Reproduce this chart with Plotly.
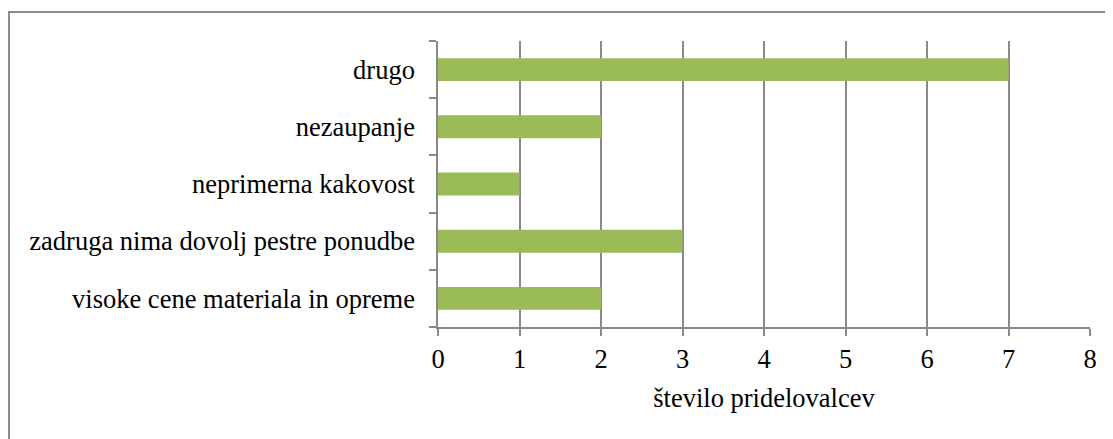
import plotly.graph_objects as go

categories = [
    "visoke cene materiala in opreme",
    "zadruga nima dovolj pestre ponudbe",
    "neprimerna kakovost",
    "nezaupanje",
    "drugo",
]
values = [2, 3, 1, 2, 7]
x_ticks = [0, 1, 2, 3, 4, 5, 6, 7, 8]
x_title = "število pridelovalcev"

OFF = 8  # page body margin
W, H = 1113, 439
L, R, T, B = 438 - OFF, 23 + OFF, 41 - OFF, 112 + OFF
pw, ph = W - L - R, H - T - B

def px_x(p):
    return (p - OFF - L) / pw

def px_y(p):
    return 1 - (p - OFF - T) / ph

FAM = "Liberation Serif"
font = dict(family=FAM, size=26.5, color="#000000")
grid = "#898989"

fig = go.Figure(
    go.Bar(
        y=categories,
        x=values,
        orientation="h",
        marker=dict(color="#9BBB59", line=dict(width=0)),
    )
)

fig.update_layout(
    width=W,
    height=H,
    margin=dict(l=L, r=R, t=T, b=B, pad=0, autoexpand=False),
    paper_bgcolor="white",
    plot_bgcolor="white",
    font=font,
    bargap=0.6,
    showlegend=False,
    xaxis=dict(
        range=[0, 8],
        tickvals=x_ticks,
        ticks="outside",
        ticklen=7,
        tickcolor=grid,
        tickwidth=1.5,
        tickfont=dict(family=FAM, size=26.5, color="#000000"),
        showgrid=True,
        gridcolor=grid,
        gridwidth=1.5,
        showline=True,
        linecolor=grid,
        linewidth=1.5,
        zeroline=False,
        automargin=False,
        title=dict(text=x_title, standoff=16,
                   font=dict(family=FAM, size=26.5, color="#000000")),
        fixedrange=True,
    ),
    yaxis=dict(
        type="category",
        categoryorder="array",
        categoryarray=categories,
        tickson="boundaries",
        ticks="outside",
        ticklen=7,
        tickcolor=grid,
        tickwidth=1.5,
        tickfont=dict(family=FAM, size=26.5, color="#000000"),
        showgrid=False,
        showline=True,
        linecolor=grid,
        linewidth=1.5,
        zeroline=False,
        automargin=False,
        ticklabelstandoff=16,
        fixedrange=True,
    ),
    shapes=[
        dict(
            type="rect",
            xref="paper",
            yref="paper",
            x0=px_x(9),
            x1=px_x(W + 20),
            y0=px_y(12),
            y1=px_y(H + 20),
            line=dict(color="#8c8c8c", width=2),
            fillcolor="rgba(0,0,0,0)",
            layer="below",
        )
    ],
)

fig.write_html("out.html")
